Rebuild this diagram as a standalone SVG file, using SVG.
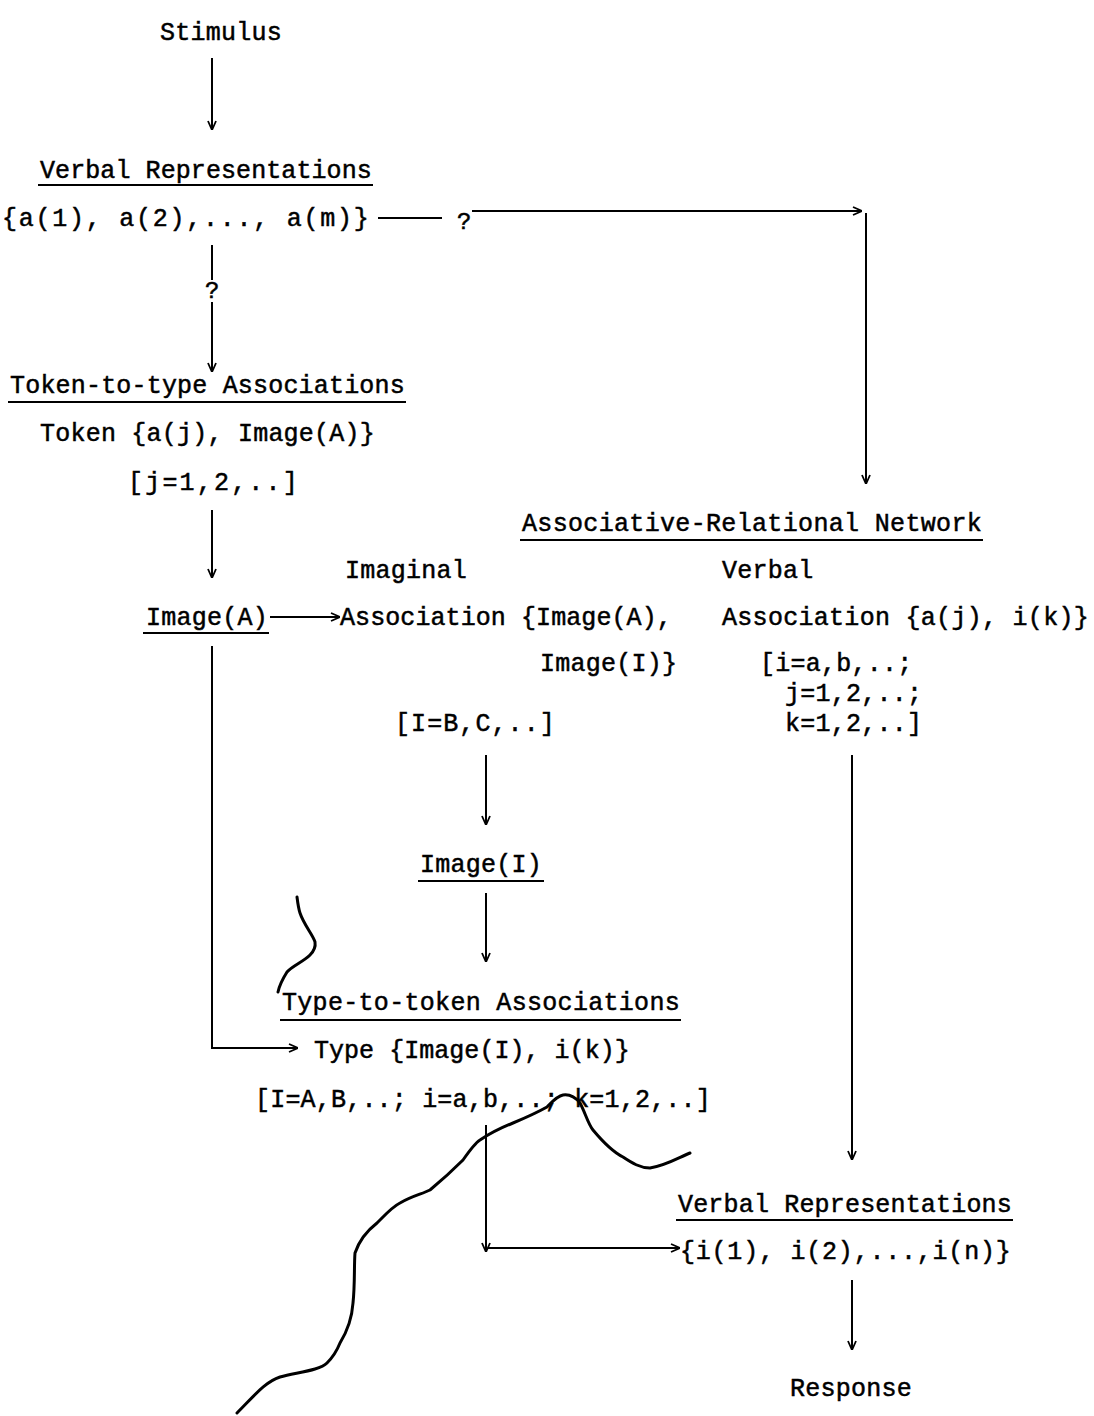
<svg xmlns="http://www.w3.org/2000/svg" width="1094" height="1416" viewBox="0 0 1094 1416">
<style>
text{font-family:"Liberation Mono","Courier New",monospace;font-size:25px;fill:#000;stroke:#000;stroke-width:0.5;letter-spacing:0.25px}
.q{font-size:24px}
.ln{stroke:#000;stroke-width:2;fill:none}
.ul{stroke:#000;stroke-width:2}
.mark{stroke:#000;stroke-width:3;fill:none;stroke-linecap:round;stroke-linejoin:round}
</style>
<defs>
<marker id="ah" viewBox="0 0 10 10" refX="10" refY="5" markerWidth="10" markerHeight="10" markerUnits="userSpaceOnUse" orient="auto">
<path d="M1,1 L10,5 L1,9" fill="none" stroke="#000" stroke-width="1.8"/>
</marker>
</defs>
<rect width="1094" height="1416" fill="#fff"/>
<g id="stimulus"><text x="160" y="40">Stimulus</text></g>
<g id="verbal-rep-in">
<text x="40" y="178" textLength="332" lengthAdjust="spacing">Verbal Representations</text>
<line class="ul" x1="38" y1="185" x2="373" y2="185"/>
<text x="2" y="226" textLength="367" lengthAdjust="spacing">{a(1), a(2),..., a(m)}</text>
</g>
<g id="token-to-type">
<text x="10" y="393" textLength="395" lengthAdjust="spacing">Token-to-type Associations</text>
<line class="ul" x1="8" y1="402" x2="406" y2="402"/>
<text x="40" y="441" textLength="335" lengthAdjust="spacing">Token {a(j), Image(A)}</text>
<text x="128" y="490" textLength="170" lengthAdjust="spacing">[j=1,2,..]</text>
</g>
<g id="image-a">
<text x="146" y="625">Image(A)</text>
<line class="ul" x1="143" y1="633" x2="269" y2="633"/>
</g>
<g id="imaginal-assoc">
<text x="345" y="578">Imaginal</text>
<text x="340" y="625" textLength="332" lengthAdjust="spacing">Association {Image(A),</text>
<text x="540" y="671">Image(I)}</text>
<text x="395" y="731" textLength="160" lengthAdjust="spacing">[I=B,C,..]</text>
</g>
<g id="network">
<text x="522" y="531" textLength="460" lengthAdjust="spacing">Associative-Relational Network</text>
<line class="ul" x1="520" y1="540" x2="983" y2="540"/>
</g>
<g id="verbal-assoc">
<text x="722" y="578">Verbal</text>
<text x="722" y="625" textLength="367" lengthAdjust="spacing">Association {a(j), i(k)}</text>
<text x="760" y="671">[i=a,b,..;</text>
<text x="785" y="701">j=1,2,..;</text>
<text x="785" y="731">k=1,2,..]</text>
</g>
<g id="image-i">
<text x="420" y="872">Image(I)</text>
<line class="ul" x1="418" y1="881" x2="544" y2="881"/>
</g>
<g id="type-to-token">
<text x="282" y="1010" textLength="398" lengthAdjust="spacing">Type-to-token Associations</text>
<line class="ul" x1="280" y1="1020" x2="681" y2="1020"/>
<text x="314" y="1058" textLength="316" lengthAdjust="spacing">Type {Image(I), i(k)}</text>
<text x="255" y="1107" textLength="456" lengthAdjust="spacing">[I=A,B,..; i=a,b,..; k=1,2,..]</text>
</g>
<g id="verbal-rep-out">
<text x="678" y="1212" textLength="334" lengthAdjust="spacing">Verbal Representations</text>
<line class="ul" x1="676" y1="1220" x2="1013" y2="1220"/>
<text x="680" y="1259" textLength="331" lengthAdjust="spacing">{i(1), i(2),...,i(n)}</text>
</g>
<g id="response"><text x="790" y="1396">Response</text></g>
<g id="connectors">
<line class="ln" x1="212" y1="58" x2="212" y2="130" marker-end="url(#ah)"/>
<line class="ln" x1="378" y1="218" x2="442" y2="218"/>
<text class="q" x="457" y="229">?</text>
<line class="ln" x1="472" y1="211" x2="862" y2="211" marker-end="url(#ah)"/>
<line class="ln" x1="866" y1="213" x2="866" y2="484" marker-end="url(#ah)"/>
<line class="ln" x1="212" y1="245" x2="212" y2="280"/>
<text class="q" x="205" y="298">?</text>
<line class="ln" x1="212" y1="302" x2="212" y2="372" marker-end="url(#ah)"/>
<line class="ln" x1="212" y1="510" x2="212" y2="578" marker-end="url(#ah)"/>
<line class="ln" x1="270" y1="617" x2="340" y2="617" marker-end="url(#ah)"/>
<polyline class="ln" points="212,646 212,1048 298,1048" marker-end="url(#ah)"/>
<line class="ln" x1="486" y1="755" x2="486" y2="825" marker-end="url(#ah)"/>
<line class="ln" x1="486" y1="893" x2="486" y2="962" marker-end="url(#ah)"/>
<line class="ln" x1="852" y1="755" x2="852" y2="1160" marker-end="url(#ah)"/>
<line class="ln" x1="486" y1="1125" x2="486" y2="1252" marker-end="url(#ah)"/>
<line class="ln" x1="488" y1="1248" x2="680" y2="1248" marker-end="url(#ah)"/>
<line class="ln" x1="852" y1="1280" x2="852" y2="1350" marker-end="url(#ah)"/>
</g>
<g id="scan-marks">
<path class="mark" d="M237,1413 C255,1395 265,1382 280,1377 C300,1372 320,1370 327,1363 C335,1355 338,1348 340,1343 C348,1330 352,1318 353,1303 C355,1285 354,1265 355,1253 C360,1238 368,1230 377,1223 C385,1215 392,1207 400,1203 C412,1196 422,1194 430,1190 C442,1180 455,1168 463,1160 C470,1150 475,1143 480,1140 C492,1132 503,1127 513,1123 C525,1118 538,1112 547,1107 C552,1102 557,1096 563,1095 C570,1094 576,1098 580,1103 C585,1112 588,1124 593,1130 C603,1142 613,1152 623,1157 C632,1163 640,1168 650,1168 C665,1166 678,1158 690,1153"/>
<path class="mark" d="M297,897 C298,905 299,910 300,913 C304,925 313,935 315,942 C316,948 313,952 310,955 C303,962 292,966 287,972 C282,980 279,987 278,992"/>
</g>
</svg>
